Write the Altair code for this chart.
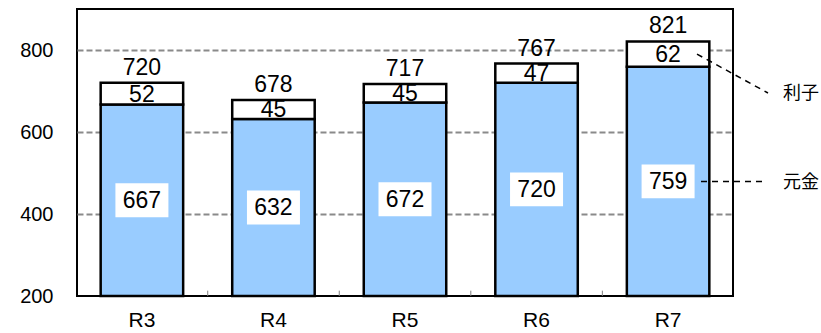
import altair as alt
import pandas as pd

# Fiscal years and amounts (億円)
years = ["R3", "R4", "R5", "R6", "R7"]
principal = [667, 632, 672, 720, 759]   # 元金
interest = [52, 45, 45, 47, 62]         # 利子
total = [720, 678, 717, 767, 821]       # 合計
y_ticks = [200, 400, 600, 800]

FONT = "Liberation Sans"
CJK = "Noto Sans CJK JP"
BLUE = "#99CCFF"
BASE = 200

df = pd.DataFrame({"year": years, "principal": principal,
                   "interest": interest, "total": total})

x_enc = alt.X(
    "year:N", sort=years, title=None,
    scale=alt.Scale(paddingInner=0.373, paddingOuter=0.18),
)
y_scale = alt.Scale(domain=[BASE, 900], nice=False, zero=False)


def y_enc(field):
    return alt.Y(field, scale=y_scale, title=None)


base = alt.Chart(df).transform_calculate(
    pmid=f"({BASE} + datum.principal) / 2",
    imid="(datum.principal + datum.total) / 2",
)

# principal segment (blue) from the axis floor; it also owns the y axis
bars_principal = base.mark_bar(
    color=BLUE, stroke="black", strokeWidth=2.5
).encode(
    x=x_enc,
    y=alt.Y("principal:Q", scale=y_scale, title=None,
            axis=alt.Axis(
                values=y_ticks,
                gridOpacity={"condition": {"test": f"datum.value == {BASE}",
                                           "value": 0}, "value": 1},
            )),
    y2=alt.datum(BASE),
)

# interest segment (white) stacked on the principal
bars_interest = base.mark_bar(
    color="white", stroke="black", strokeWidth=2.5
).encode(x=x_enc, y=y_enc("principal:Q"), y2="total:Q")

# white boxes behind the principal figures
boxes = base.mark_point(
    shape="M-1,-0.64L1,-0.64L1,0.64L-1,0.64Z", filled=True,
    fill="white", opacity=1, strokeWidth=0, size=53 * 53,
).encode(x=x_enc, y=y_enc("pmid:Q"))

principal_text = base.mark_text(
    font=FONT, fontSize=23, color="black", baseline="middle", dy=1
).encode(x=x_enc, y=y_enc("pmid:Q"), text="principal:Q")

interest_text = base.mark_text(
    font=FONT, fontSize=23, color="black", baseline="middle", dy=1
).encode(x=x_enc, y=y_enc("imid:Q"), text="interest:Q")

total_text = base.mark_text(
    font=FONT, fontSize=23, color="black", baseline="alphabetic", dy=-8
).encode(x=x_enc, y=y_enc("total:Q"), text="total:Q")

# small category separators on the bottom edge
sep_df = pd.DataFrame({"year": years[1:]})
separators = alt.Chart(sep_df).mark_rule(
    color="#808080", strokeWidth=1, xOffset=-24.5
).encode(
    x=alt.X("year:N", sort=years, bandPosition=0, title=None),
    y=alt.datum(BASE),
    y2=alt.datum(BASE + 13),
)

# series names at the right with dashed leader lines to the last bar
last = df[df["year"] == years[-1]]
lead_principal = alt.Chart(last).transform_calculate(
    pmid=f"({BASE} + datum.principal) / 2"
).mark_rule(color="black", strokeWidth=1.5, strokeDash=[6, 5]).encode(
    x=alt.value(624), x2=alt.value(690), y=y_enc("pmid:Q"),
)
lead_interest = alt.Chart(last).transform_calculate(
    imid="(datum.principal + datum.total) / 2"
).mark_rule(color="black", strokeWidth=1.5, strokeDash=[6, 5]).encode(
    x=alt.value(620), x2=alt.value(691), y=y_enc("imid:Q"),
    y2=alt.value(84),
)
name_principal = alt.Chart(last).transform_calculate(
    pmid=f"({BASE} + datum.principal) / 2", name="'元金'"
).mark_text(font=CJK, fontSize=18, color="black", align="left",
            baseline="middle", dy=2).encode(
    x=alt.value(706), y=y_enc("pmid:Q"), text="name:N",
)
name_interest = alt.Chart(last).transform_calculate(
    name="'利子'"
).mark_text(font=CJK, fontSize=18, color="black", align="left",
            baseline="middle", dy=1).encode(
    x=alt.value(706), y=alt.value(84), text="name:N",
)

chart = alt.layer(
    bars_principal, bars_interest, boxes, principal_text, interest_text,
    total_text, separators, lead_principal, lead_interest,
    name_principal, name_interest,
).properties(
    width=656, height=287,
    autosize=alt.AutoSizeParams(type="none"),
    padding={"left": 77, "top": 9, "right": 88, "bottom": 37},
    background="white",
).configure_view(
    stroke="black", strokeWidth=2
).configure_axisX(
    labelAngle=0, labelFont=FONT, labelFontSize=21, labelColor="black",
    labelPadding=13, ticks=False, domain=False, grid=False,
).configure_axisY(
    labelFont=FONT, labelFontSize=20,
    labelColor="black", labelPadding=24, ticks=False, domain=False,
    grid=True, gridColor="#8a8a8a", gridWidth=2, gridDash=[6, 3],
)

chart.save("out.html", embed_options={"renderer": "svg", "actions": False})
